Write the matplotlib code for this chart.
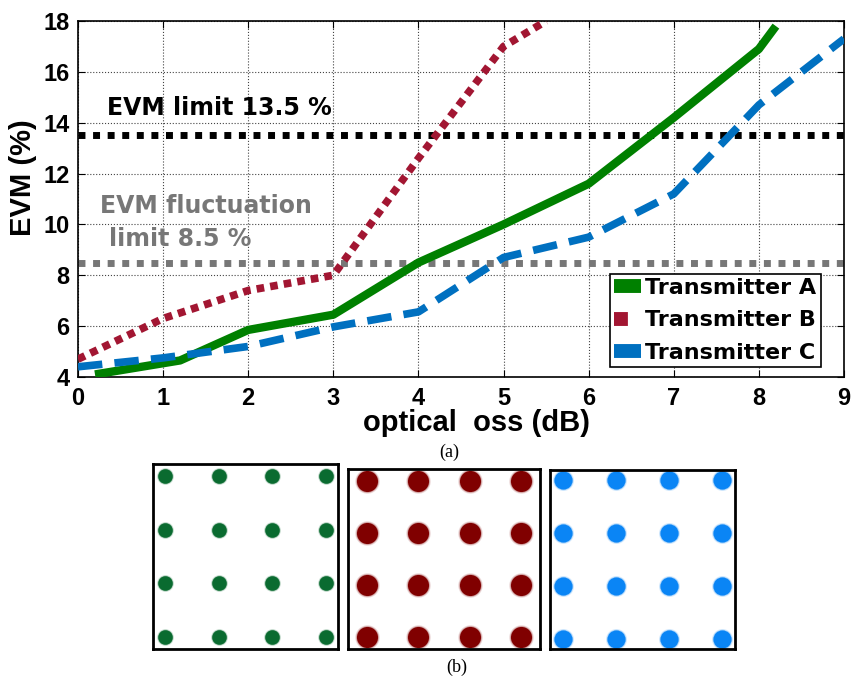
import numpy as np
import matplotlib.pyplot as plt
from matplotlib.lines import Line2D

# EVM vs optical loss
loss_a = [0.2, 1.2, 2.0, 3.0, 4.0, 5.0, 6.0, 7.0, 8.0, 8.2]
evm_a = [4.1, 4.65, 5.85, 6.45, 8.5, 10.0, 11.6, 14.2, 16.9, 17.8]
loss_b = [0.0, 1.0, 2.0, 3.0, 4.0, 5.0, 5.5]
evm_b = [4.7, 6.3, 7.4, 8.0, 12.6, 17.0, 18.0]
loss_c = [0.0, 1.0, 2.0, 3.0, 4.0, 5.0, 6.0, 7.0, 8.0, 9.0]
evm_c = [4.4, 4.75, 5.2, 5.97, 6.56, 8.7, 9.5, 11.2, 14.7, 17.3]
evm_limit = 13.5
fluct_limit = 8.5
labels = ['Transmitter A', 'Transmitter B', 'Transmitter C']

# 16-QAM constellation levels
qam_levels = [-3, -1, 1, 3]

plt.rcParams['font.family'] = ['Liberation Sans', 'DejaVu Sans']
wide = ['DejaVu Sans']

green, red, blue = '#008000', '#A21632', '#0070C0'

fig = plt.figure(figsize=(8.54, 6.78), dpi=100)
ax = fig.add_axes([0.0913, 0.444, 0.897, 0.525])

ax.axhline(evm_limit, color='black', lw=5, ls=(0, (1, 1.1)), dash_capstyle='butt', zorder=2)
ax.axhline(fluct_limit, color='#777777', lw=5, ls=(0, (1, 1.1)), dash_capstyle='butt', zorder=2)

ax.plot(loss_a, evm_a, color=green, lw=6, solid_capstyle='butt', zorder=3)
ax.plot(loss_b, evm_b, color=red, lw=5.5, ls=(0, (1, 0.8)), dash_capstyle='butt', zorder=3)
ax.plot(loss_c, evm_c, color=blue, lw=5.5, ls=(0, (3.2, 1.6)), dash_capstyle='butt', zorder=3)

ax.set_xlim(0, 9)
ax.set_ylim(4, 18)
ax.set_xticks(range(0, 10))
ax.set_yticks(range(4, 19, 2))
ax.grid(True, ls=':', color='#444444', lw=0.8)
ax.tick_params(direction='in', top=True, right=True, length=5, labelsize=17, pad=6)
ax.tick_params(axis='x', pad=7)
for t in ax.get_xticklabels() + ax.get_yticklabels():
    t.set_fontweight('bold')
for s in ax.spines.values():
    s.set_linewidth(1.2)

ax.set_xlabel('optical  oss (dB)', fontsize=21, fontweight='bold')
ax.xaxis.set_label_coords(0.52, -0.09)
ax.set_ylabel('EVM (%)', fontsize=21, fontweight='bold')
ax.yaxis.set_label_coords(-0.054, 0.559)

ax.text(0.34, 14.3, 'EVM limit 13.5 %', fontsize=17, fontweight='bold', color='black', family=wide)
ax.text(0.26, 10.46, 'EVM fluctuation', fontsize=17, fontweight='bold', color='#777777', family=wide)
ax.text(0.36, 9.16, 'limit 8.5 %', fontsize=17, fontweight='bold', color='#777777', family=wide)

handles = [
    Line2D([], [], color=green, lw=10, solid_capstyle='butt'),
    Line2D([], [], color=red, lw=10, ls=(0, (1, 2)), dash_capstyle='butt'),
    Line2D([], [], color=blue, lw=10, solid_capstyle='butt'),
]
leg = ax.legend(handles, labels, loc='lower right', bbox_to_anchor=(0.970, 0.028),
                prop={'weight': 'bold', 'size': 16, 'family': wide},
                frameon=True, fancybox=False, edgecolor='black', framealpha=1,
                handlelength=1.2, handletextpad=0.2, borderpad=0.2, labelspacing=0.55,
                borderaxespad=0)
leg.get_frame().set_linewidth(1.2)

fig.text(0.526, 0.333, '(a)', fontsize=13, family='Liberation Serif', ha='center', va='center')
fig.text(0.535, 0.016, '(b)', fontsize=13, family='Liberation Serif', ha='center', va='center')

# constellation panels
panels = [
    ([0.179, 0.0428, 0.2166, 0.2729], '#0A6B30', 110, (-3.45, 3.45), (-3.45, 3.45)),
    ([0.4075, 0.0428, 0.2248, 0.2655], '#800000', 230, (-3.72, 3.72), (-3.48, 3.48)),
    ([0.644, 0.0428, 0.2166, 0.264], '#0A85F5', 170, (-3.47, 3.47), (-3.36, 3.36)),
]
gx, gy = np.meshgrid(qam_levels, qam_levels)
for rect, col, size, xl, yl in panels:
    cax = fig.add_axes(rect)
    for k, a in [(1.35, 0.15), (1.15, 0.3), (1.0, 1.0)]:
        cax.scatter(gx.ravel(), gy.ravel(), s=size * k, color=col, alpha=a, lw=0)
    cax.set_xlim(*xl)
    cax.set_ylim(*yl)
    cax.set_xticks([])
    cax.set_yticks([])
    for s in cax.spines.values():
        s.set_linewidth(2)

fig.savefig('out.png', dpi=100)
